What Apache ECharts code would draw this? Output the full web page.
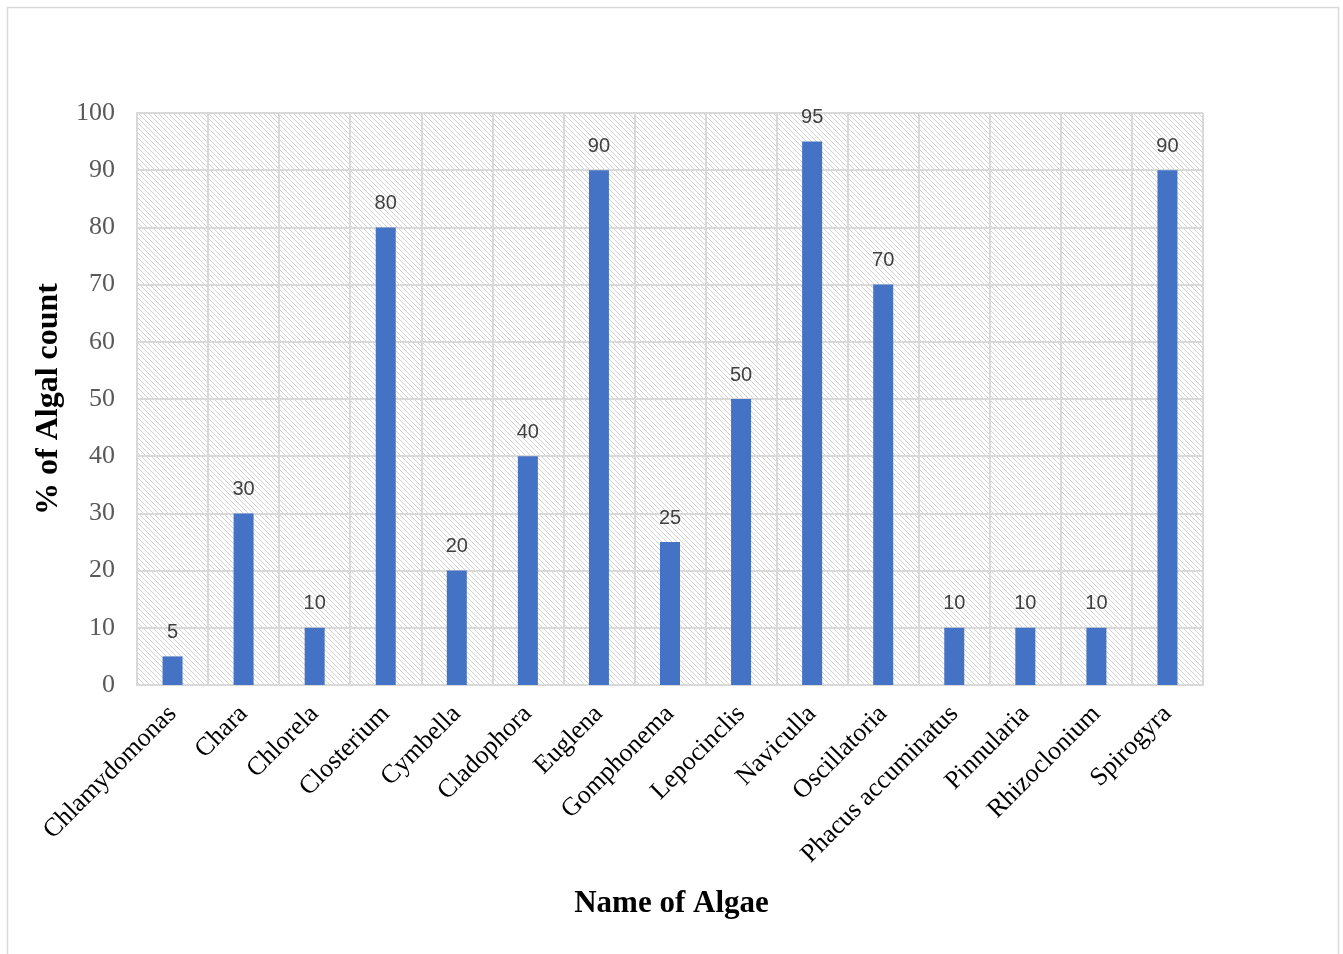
<!DOCTYPE html>
<html>
<head>
<meta charset="utf-8">
<script src="https://cdn.jsdelivr.net/npm/echarts@6/dist/echarts.min.js"></script>
<style>html,body{margin:0;padding:0;background:#fff}#c{width:1343px;height:954px}</style>
</head>
<body>
<div id="c"></div>
<script>
const categories = ['Chlamydomonas','Chara','Chlorela','Closterium','Cymbella','Cladophora','Euglena','Gomphonema','Lepocinclis','Naviculla','Oscillatoria','Phacus accuminatus','Pinnularia','Rhizoclonium','Spirogyra'];
const values = [5,30,10,80,20,40,90,25,50,95,70,10,10,10,90];
const yTicks = [0,10,20,30,40,50,60,70,80,90,100];

function makePattern(){
  const n = 5;
  const c = document.createElement('canvas');
  c.width = n; c.height = n;
  const ctx = c.getContext('2d');
  ctx.fillStyle = '#ffffff';
  ctx.fillRect(0,0,n,n);
  ctx.fillStyle = '#d4d4d4';
  for (let i=0;i<n;i++){ ctx.fillRect(i, i, 1, 1); }
  return c;
}

const chart = echarts.init(document.getElementById('c'), null, {renderer:'canvas'});
chart.setOption({
  animation:false,
  backgroundColor:'#ffffff',
  grid:{left:137,right:140,top:113,bottom:269,show:true,borderWidth:0,
        backgroundColor:{image:makePattern(),repeat:'repeat'}},
  graphic:[
    {type:'rect',shape:{x:7.5,y:7.5,width:1331,height:960},style:{fill:'none',stroke:'#d9d9d9',lineWidth:1.5},silent:true},
    {type:'text',left:'center',top:888,style:{text:'Name of Algae',font:'bold 31px "Liberation Serif"',fill:'#000'}}
  ],
  xAxis:{
    type:'category',data:categories,
    axisLine:{show:true,lineStyle:{color:'#d9d9d9',width:2}},
    axisTick:{show:false},
    splitLine:{show:true,lineStyle:{color:'#d9d9d9',width:2}},
    axisLabel:{rotate:45,interval:0,margin:25,fontFamily:'Liberation Serif',fontSize:26,color:'#000'}
  },
  yAxis:{
    type:'value',min:0,max:100,interval:10,
    name:'% of Algal count',nameLocation:'middle',nameGap:68,
    nameTextStyle:{fontFamily:'Liberation Serif',fontWeight:'bold',fontSize:32,color:'#000'},
    axisLine:{show:true,lineStyle:{color:'#d9d9d9',width:2}},
    axisTick:{show:false},
    splitLine:{show:true,lineStyle:{color:'#d9d9d9',width:2}},
    axisLabel:{margin:22,fontFamily:'Liberation Serif',fontSize:26,color:'#595959',
      formatter:function(v){return yTicks.indexOf(v)>=0?String(v):'';}}
  },
  series:[{
    type:'bar',data:values,barWidth:20,
    itemStyle:{color:'#4472C4'},
    label:{show:true,position:'top',distance:14,fontFamily:'Liberation Sans',fontSize:20,color:'#404040'}
  }]
});
</script>
</body>
</html>
